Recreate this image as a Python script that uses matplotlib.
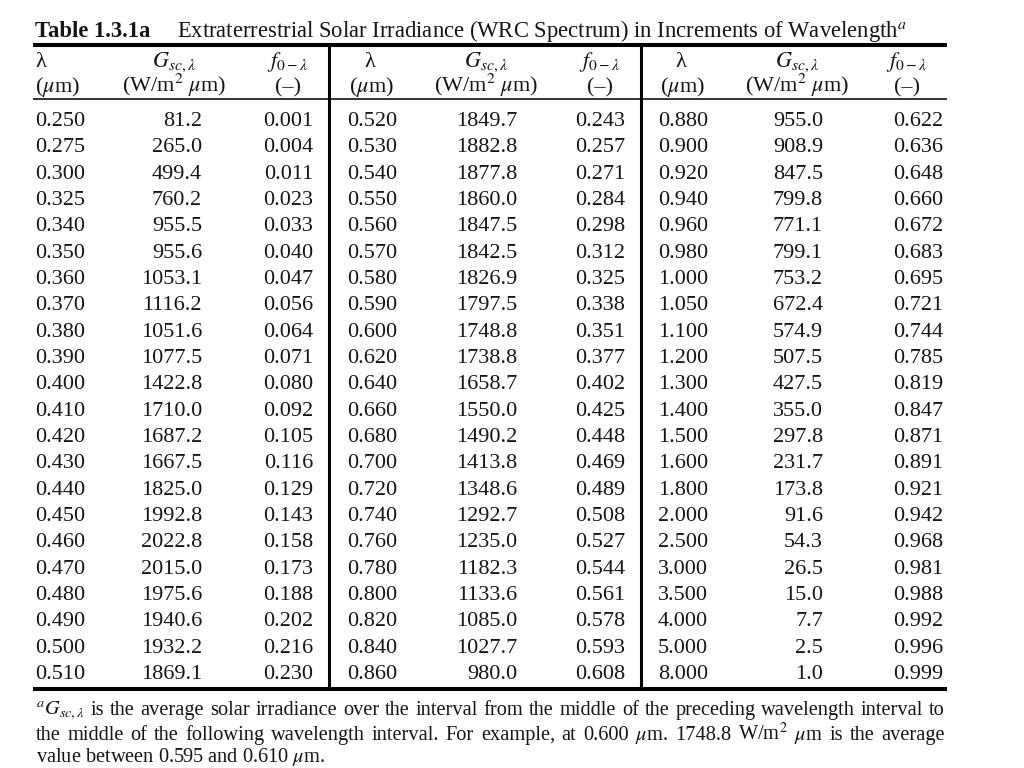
import matplotlib
matplotlib.use('Agg')
import matplotlib.pyplot as plt

# datos de la tabla (tres bloques de columnas)
lam1 = ['0.250', '0.275', '0.300', '0.325', '0.340', '0.350', '0.360', '0.370', '0.380', '0.390', '0.400',
        '0.410', '0.420', '0.430', '0.440', '0.450', '0.460', '0.470', '0.480', '0.490', '0.500', '0.510']
g1 = ['81.2', '265.0', '499.4', '760.2', '955.5', '955.6', '1053.1', '1116.2', '1051.6', '1077.5', '1422.8',
      '1710.0', '1687.2', '1667.5', '1825.0', '1992.8', '2022.8', '2015.0', '1975.6', '1940.6', '1932.2', '1869.1']
f1 = ['0.001', '0.004', '0.011', '0.023', '0.033', '0.040', '0.047', '0.056', '0.064', '0.071', '0.080',
      '0.092', '0.105', '0.116', '0.129', '0.143', '0.158', '0.173', '0.188', '0.202', '0.216', '0.230']

lam2 = ['0.520', '0.530', '0.540', '0.550', '0.560', '0.570', '0.580', '0.590', '0.600', '0.620', '0.640',
        '0.660', '0.680', '0.700', '0.720', '0.740', '0.760', '0.780', '0.800', '0.820', '0.840', '0.860']
g2 = ['1849.7', '1882.8', '1877.8', '1860.0', '1847.5', '1842.5', '1826.9', '1797.5', '1748.8', '1738.8', '1658.7',
      '1550.0', '1490.2', '1413.8', '1348.6', '1292.7', '1235.0', '1182.3', '1133.6', '1085.0', '1027.7', '980.0']
f2 = ['0.243', '0.257', '0.271', '0.284', '0.298', '0.312', '0.325', '0.338', '0.351', '0.377', '0.402',
      '0.425', '0.448', '0.469', '0.489', '0.508', '0.527', '0.544', '0.561', '0.578', '0.593', '0.608']

lam3 = ['0.880', '0.900', '0.920', '0.940', '0.960', '0.980', '1.000', '1.050', '1.100', '1.200', '1.300',
        '1.400', '1.500', '1.600', '1.800', '2.000', '2.500', '3.000', '3.500', '4.000', '5.000', '8.000']
g3 = ['955.0', '908.9', '847.5', '799.8', '771.1', '799.1', '753.2', '672.4', '574.9', '507.5', '427.5',
      '355.0', '297.8', '231.7', '173.8', '91.6', '54.3', '26.5', '15.0', '7.7', '2.5', '1.0']
f3 = ['0.622', '0.636', '0.648', '0.660', '0.672', '0.683', '0.695', '0.721', '0.744', '0.785', '0.819',
      '0.847', '0.871', '0.891', '0.921', '0.942', '0.968', '0.981', '0.988', '0.992', '0.996', '0.999']

cabecera1 = ['λ', r'$G_{sc,\lambda}$', r'$f_{0-\lambda}$']
cabecera2 = [r'($\mu$m)', r'(W/m$^2$ $\mu$m)', '(–)']

titulo_a = 'Table 1.3.1a'
titulo_b = r'Extraterrestrial Solar Irradiance (WRC Spectrum) in Increments of Wavelength$^a$'
nota1 = r'$^aG_{sc,\lambda}$ is the average solar irradiance over the interval from the middle of the preceding wavelength interval to'
nota2 = r'the middle of the following wavelength interval. For example, at 0.600 $\mu$m. 1748.8  W/m$^2$ $\mu$m is the average'
nota3 = r'value between 0.595 and 0.610 $\mu$m.'

plt.rcParams['font.family'] = 'Liberation Serif'
plt.rcParams['mathtext.fontset'] = 'stix'
color = '#151515'
fs = 16

fig = plt.figure(figsize=(10.24, 7.68), dpi=100)
ax = fig.add_axes([0, 0, 1, 1])
ax.set_xlim(0, 1024)
ax.set_ylim(768, 0)
ax.axis('off')

# titulo
ax.text(35, 37, titulo_a, fontsize=16.3, fontweight='bold', color=color, va='baseline')
ax.text(177, 37, titulo_b, fontsize=16.3, color=color, va='baseline')

# reglas
x_izq, x_der = 33, 947
ax.plot([x_izq, x_der], [44.5, 44.5], color='black', lw=2.9, solid_capstyle='butt')
ax.plot([x_izq, x_der], [99, 99], color='#333333', lw=1.4, solid_capstyle='butt')
ax.plot([x_izq, x_der], [689, 689], color='black', lw=2.9, solid_capstyle='butt')
for xv in [329, 641]:
    ax.plot([xv, xv], [46, 688], color='black', lw=2.2, solid_capstyle='butt')

# bloques: (lam, g, f, x izq lambda, centro cab lambda, centro cab (um), x der G, centro cab G, x der f, centro cab f)
bloques = [
    (lam1, g1, f1, 35, 40, 60, 202, 174, 313, 288),
    (lam2, g2, f2, 347, 370, 371, 517, 486, 625, 600),
    (lam3, g3, f3, 658, 681, 682, 823, 797, 943, 907),
]

yb1, yb2 = 67, 92
y0, dy = 126, (679 - 126) / 21
for lam, g, f, xl, xlh, xlh2, xg, xgh, xf, xfh in bloques:
    # cabeceras
    if xl == 35:
        ax.text(xl, yb1, cabecera1[0], fontsize=fs, color=color, ha='left', va='baseline')
        ax.text(xl, yb2, cabecera2[0], fontsize=fs, color=color, ha='left', va='baseline')
    else:
        ax.text(xlh, yb1, cabecera1[0], fontsize=fs, color=color, ha='center', va='baseline')
        ax.text(xlh2, yb2, cabecera2[0], fontsize=fs, color=color, ha='center', va='baseline')
    ax.text(xgh, yb1, cabecera1[1], fontsize=fs, color=color, ha='center', va='baseline')
    ax.text(xgh, yb2, cabecera2[1], fontsize=fs, color=color, ha='center', va='baseline')
    ax.text(xfh, yb1, cabecera1[2], fontsize=fs, color=color, ha='center', va='baseline')
    ax.text(xfh, yb2, cabecera2[2], fontsize=fs, color=color, ha='center', va='baseline')
    # filas
    for i in range(len(lam)):
        y = round(y0 + i * dy)
        ax.text(xl, y, lam[i], fontsize=fs, color=color, ha='left', va='baseline')
        ax.text(xg, y, g[i], fontsize=fs, color=color, ha='right', va='baseline')
        ax.text(xf, y, f[i], fontsize=fs, color=color, ha='right', va='baseline')

# nota al pie justificada
renderer = fig.canvas.get_renderer()


def linea_justificada(texto, y, x0, x1, size):
    palabras = texto.split()
    # volver a unir trozos de mathtext separados por espacios
    trozos = []
    for p in palabras:
        if trozos and trozos[-1].count('$') % 2 == 1:
            trozos[-1] += ' ' + p
        else:
            trozos.append(p)
    objs = [ax.text(0, y, t, fontsize=size, color=color, ha='left', va='baseline') for t in trozos]
    anchos = [o.get_window_extent(renderer).width for o in objs]
    hueco = (x1 - x0 - sum(anchos)) / (len(objs) - 1)
    x = x0
    for o, w in zip(objs, anchos):
        o.set_x(x)
        x += w + hueco


fs_nota = 14.7
linea_justificada(nota1, 715, 36, 945, fs_nota)
linea_justificada(nota2, 740, 36, 945, fs_nota)
ax.text(36, 762, nota3, fontsize=fs_nota, color=color, ha='left', va='baseline')

fig.savefig('out.png', dpi=100, facecolor='white')
